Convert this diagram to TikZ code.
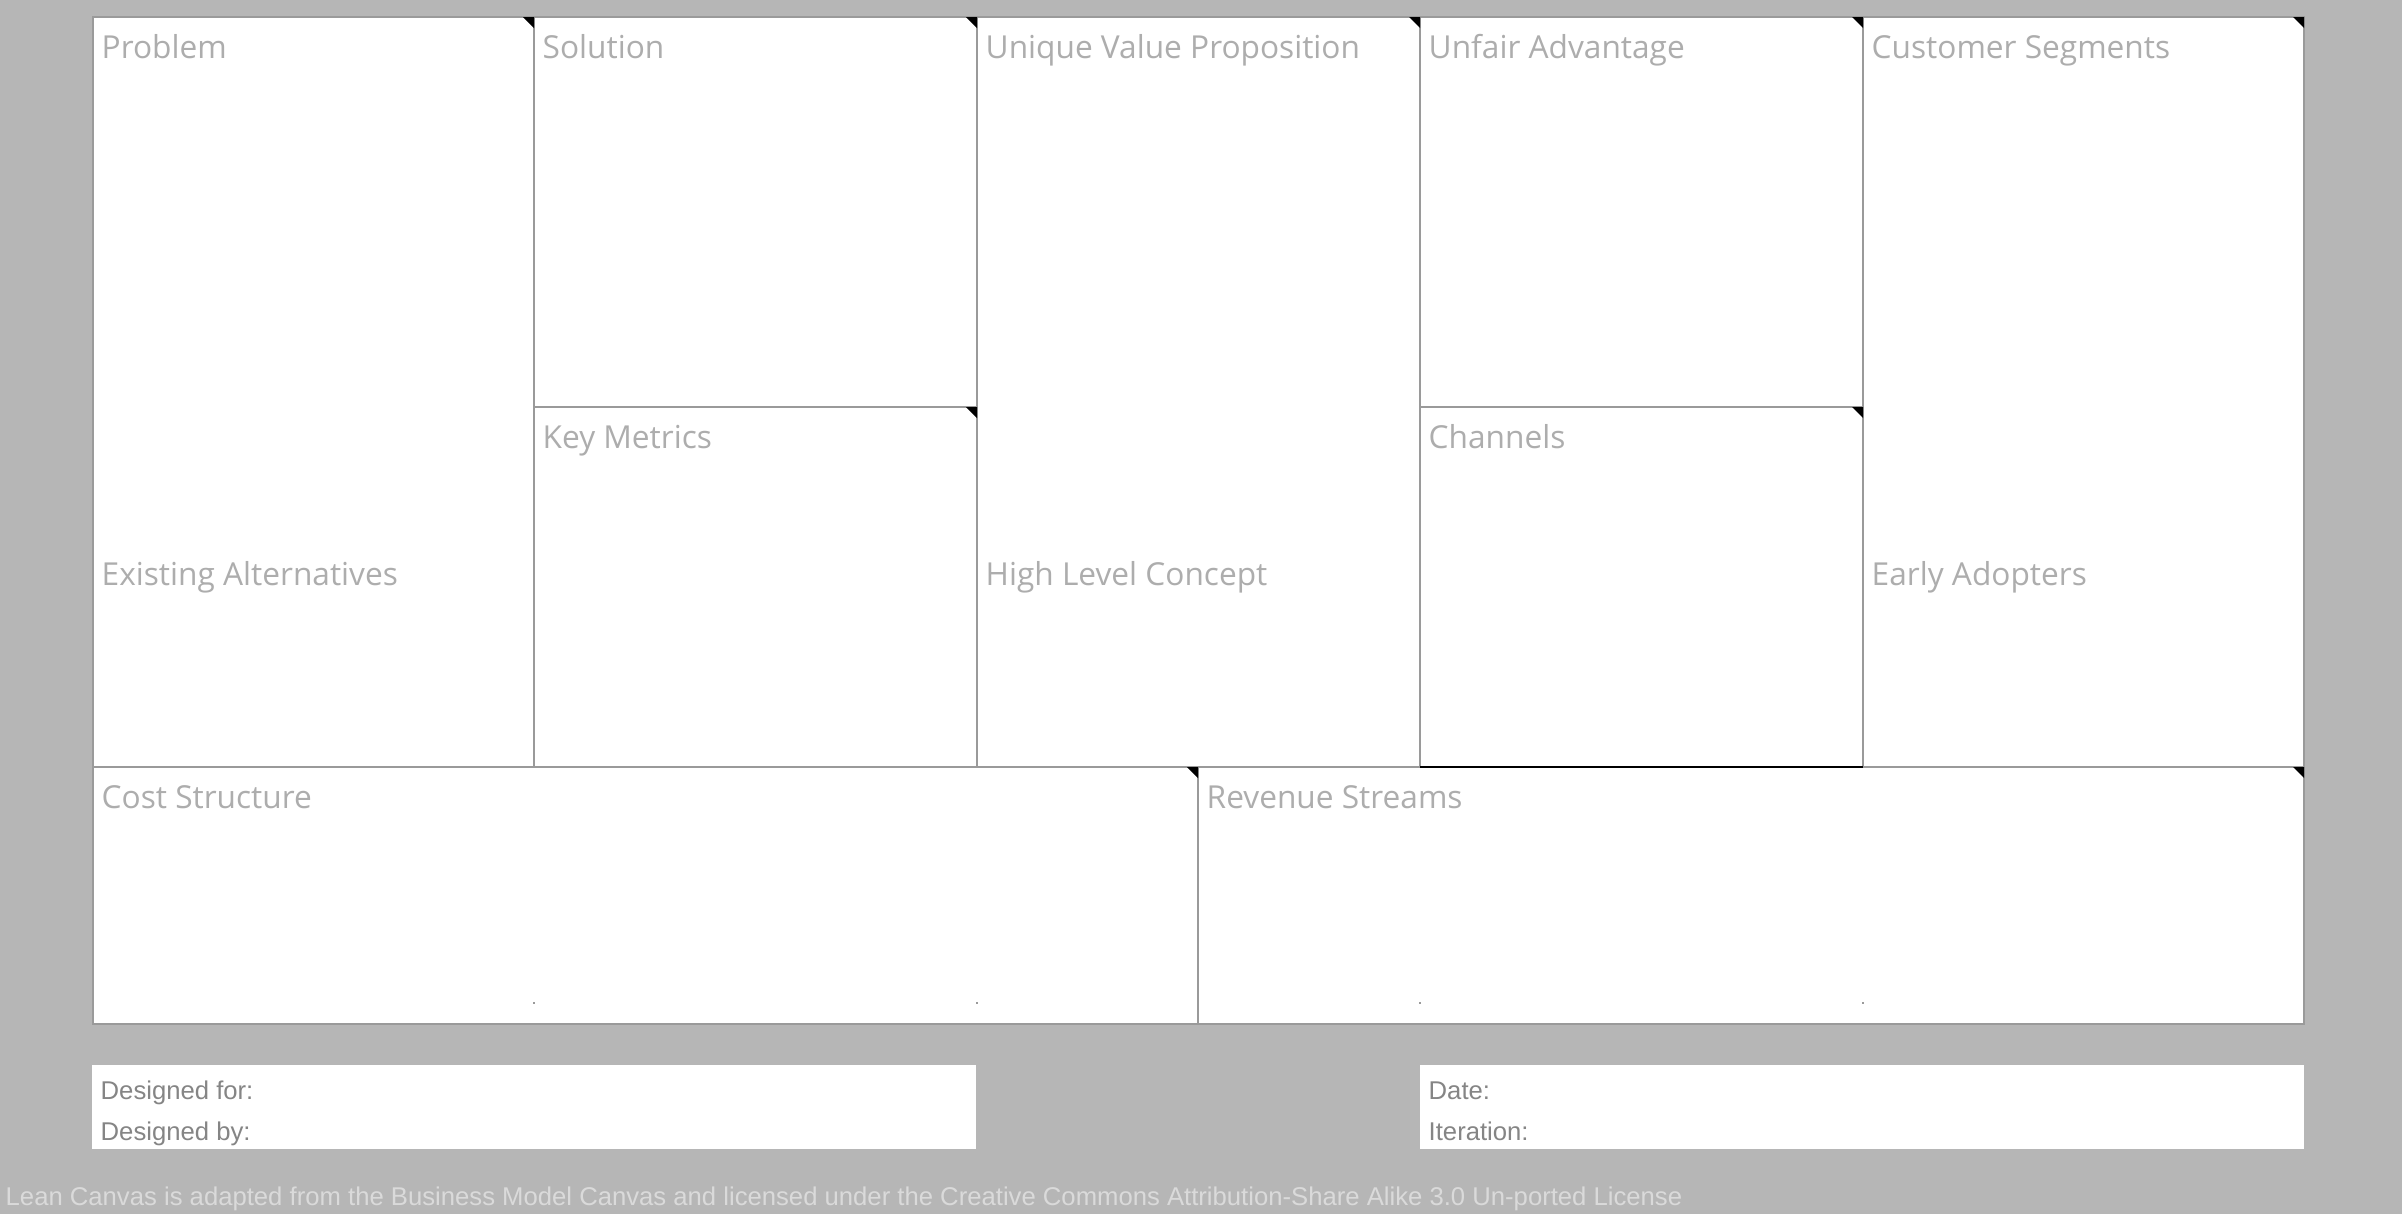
\documentclass[tikz,border=0pt]{standalone}
\usepackage{fontspec}
\setmainfont{Open Sans}
\newfontfamily\formfont{Liberation Sans}
\usetikzlibrary{positioning}
\definecolor{canvasbg}{HTML}{B6B6B6}
\definecolor{gridline}{HTML}{9A9A9A}
\definecolor{titlegray}{HTML}{ADADAD}
\definecolor{formgray}{HTML}{858585}
\definecolor{notegray}{HTML}{DADADA}
\tikzset{
  cell/.style={draw=gridline, line width=0.55pt, fill=white},
  celltitle/.style={anchor=base west, inner sep=0pt, text=titlegray, font=\fontsize{9}{10}\selectfont},
  formtext/.style={anchor=base west, inner sep=0pt, text=formgray, font=\formfont\fontsize{7.3}{8}\selectfont},
}
\begin{document}
\begin{tikzpicture}[x=0.01cm,y=-0.01cm]
        % Hintergrund
        \fill[canvasbg] (0,0) rectangle (2402,1214);
        \useasboundingbox (0,0) rectangle (2402,1214);
        % Felder - obere Reihe
        \draw[cell] (93,17) rectangle (534,767);
        \draw[cell] (534,17) rectangle (977,407);
        \draw[cell] (534,407) rectangle (977,767);
        \draw[cell] (977,17) rectangle (1420,767);
        \draw[cell] (1420,17) rectangle (1863,407);
        \draw[cell] (1420,407) rectangle (1863,767);
        \draw[cell] (1863,17) rectangle (2304,767);
        % Felder - untere Reihe
        \draw[cell] (93,767) rectangle (1198,1024);
        \draw[cell] (1198,767) rectangle (2304,1024);
        % schwarze Kante unter Channels
        \draw[line width=0.6pt] (1420,767) -- (1863,767);
        % Ecken (schwarze Dreiecke)
        \fill (523,17) -- (534,17) -- (534,28) -- cycle;
        \fill (966,17) -- (977,17) -- (977,28) -- cycle;
        \fill (1409,17) -- (1420,17) -- (1420,28) -- cycle;
        \fill (1852,17) -- (1863,17) -- (1863,28) -- cycle;
        \fill (2293,17) -- (2304,17) -- (2304,28) -- cycle;
        \fill (966,407) -- (977,407) -- (977,418) -- cycle;
        \fill (1852,407) -- (1863,407) -- (1863,418) -- cycle;
        \fill (1187,767) -- (1198,767) -- (1198,778) -- cycle;
        \fill (2293,767) -- (2304,767) -- (2304,778) -- cycle;
        % kleine Punkte unten
        \fill[gridline] (533,1002) rectangle (535,1004);
        \fill[gridline] (976,1002) rectangle (978,1004);
        \fill[gridline] (1419,1002) rectangle (1421,1004);
        \fill[gridline] (1862,1002) rectangle (1864,1004);
        % Titel
        \node[celltitle] (problem) at (101,58) {Problem};
        \node[celltitle] (solution) at (542,58) {Solution};
        \node[celltitle] (uvp) at (985,58) {Unique Value Proposition};
        \node[celltitle] (advantage) at (1428,58) {Unfair Advantage};
        \node[celltitle] (segments) at (1871,58) {Customer Segments};
        \node[celltitle] (metrics) at (542,448) {Key Metrics};
        \node[celltitle] (channels) at (1428,448) {Channels};
        \node[celltitle] (alternatives) at (101,585) {Existing Alternatives};
        \node[celltitle] (concept) at (985,585) {High Level Concept};
        \node[celltitle] (adopters) at (1871,585) {Early Adopters};
        \node[celltitle] (cost) at (101,808) {Cost Structure};
        \node[celltitle] (revenue) at (1206,808) {Revenue Streams};
        % Formularfelder
        \fill[white] (92,1065) rectangle (976,1149);
        \fill[white] (1420,1065) rectangle (2304,1149);
        \node[formtext] (designedfor) at (100,1099) {Designed for:};
        \node[formtext] (designedby) at (100,1140) {Designed by:};
        \node[formtext] (date) at (1428,1099) {Date:};
        \node[formtext] (iteration) at (1428,1140) {Iteration:};
        % Lizenzhinweis
        \node[anchor=base west, inner sep=0pt, text=notegray, font=\formfont\fontsize{7.3}{8}\selectfont] (note) at (5,1205) {Lean Canvas is adapted from the Business Model Canvas and licensed under the Creative Commons Attribution-Share Alike 3.0 Un-ported License};
    \end{tikzpicture}
\end{document}
